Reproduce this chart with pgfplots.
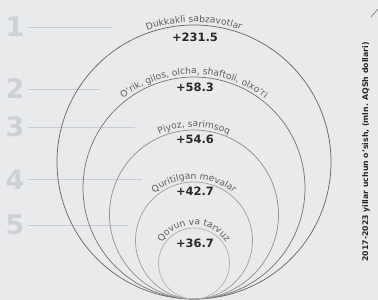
\documentclass[border=0pt]{standalone}
\usepackage{pgfplots}
\pgfplotsset{compat=1.18}
\usepackage{fontspec}
\setmainfont{DejaVu Sans}
\usetikzlibrary{decorations.text,calc}
\definecolor{bg}{RGB}{233,234,236}
\definecolor{dig}{RGB}{205,208,212}
\definecolor{lead}{RGB}{200,203,207}
\definecolor{lab}{RGB}{95,95,95}
\definecolor{val}{RGB}{40,40,40}
\definecolor{c1}{RGB}{105,105,105}
\definecolor{c2}{RGB}{120,120,120}
\definecolor{c3}{RGB}{145,145,145}
\definecolor{c4}{RGB}{160,160,160}
\definecolor{c5}{RGB}{180,180,180}
\newcommand\labfont{\fontsize{9.2}{10}\selectfont}
\newcommand\valfont{\fontsize{11.5}{12}\selectfont\bfseries}
\newcommand\digfont{\fontsize{27}{28}\selectfont\bfseries}
\newcommand\rfont{\fontsize{7.8}{8}\selectfont\bfseries}
\begin{document}
\begin{tikzpicture}
\begin{axis}[width=378bp,height=300bp,scale only axis,
  xmin=0,xmax=378,ymin=0,ymax=300,y dir=reverse,
  axis lines=none,clip=false]
\fill[bg] (rel axis cs:0,0) rectangle (rel axis cs:1,1);
% leader lines
\addplot[lead, line width=0.8pt] coordinates {(28,27) (112,27)};
\addplot[lead, line width=0.8pt] coordinates {(28,89) (100,89)};
\addplot[lead, line width=0.8pt] coordinates {(28,127) (135,127)};
\addplot[lead, line width=0.8pt] coordinates {(28,179) (142,179)};
\addplot[lead, line width=0.8pt] coordinates {(28,225) (128,225)};
% circles (centre x, centre y; radius as mark size)
\addplot[only marks, mark=o, mark size=137bp, mark options={draw=c1, line width=0.75pt}] coordinates {(194,162)};
\addplot[only marks, mark=o, mark size=111bp, mark options={draw=c2, line width=0.75pt}] coordinates {(194,188)};
\addplot[only marks, mark=o, mark size=84.5bp, mark options={draw=c3, line width=0.75pt}] coordinates {(194,214.5)};
\addplot[only marks, mark=o, mark size=58.5bp, mark options={draw=c4, line width=0.75pt}] coordinates {(194,240.5)};
\addplot[only marks, mark=o, mark size=35.5bp, mark options={draw=c5, line width=0.75pt}] coordinates {(194,263.5)};
% corner stroke
\addplot[c3, line width=0.9pt] coordinates {(371,17) (378,9)};
% curved labels
\path[decorate, decoration={text along path, text align=center, text color=lab, text={|\labfont|Dukkakli sabzavotlar}}]
  ($(axis cs:194,162)+(150:140bp)$) arc[start angle=150,end angle=30,radius=140bp];
\path[decorate, decoration={text along path, text align=center, text color=lab, text={|\labfont|O'rik, gilos, olcha, shaftoli, olxo'ri}}]
  ($(axis cs:194,188)+(150:114bp)$) arc[start angle=150,end angle=30,radius=114bp];
\path[decorate, decoration={text along path, text align=center, text color=lab, text={|\labfont|Piyoz, sarimsoq}}]
  ($(axis cs:194,214.5)+(150:87.5bp)$) arc[start angle=150,end angle=30,radius=87.5bp];
\path[decorate, decoration={text along path, text align=center, text color=lab, text={|\labfont|Quritilgan mevalar}}]
  ($(axis cs:194,240.5)+(160:61.5bp)$) arc[start angle=160,end angle=20,radius=61.5bp];
\path[decorate, decoration={text along path, text align=center, text color=lab, text={|\labfont|Qovun va tarvuz}}]
  ($(axis cs:194,263.5)+(170:38.5bp)$) arc[start angle=170,end angle=10,radius=38.5bp];
% values
\node[font=\valfont, text=val] at (axis cs:195,37) {+231.5};
\node[font=\valfont, text=val] at (axis cs:195,87) {+58.3};
\node[font=\valfont, text=val] at (axis cs:195,139) {+54.6};
\node[font=\valfont, text=val] at (axis cs:195,191) {+42.7};
\node[font=\valfont, text=val] at (axis cs:195,243) {+36.7};
% rank digits
\node[font=\digfont, text=dig] at (axis cs:15,27) {1};
\node[font=\digfont, text=dig] at (axis cs:15,89) {2};
\node[font=\digfont, text=dig] at (axis cs:15,127) {3};
\node[font=\digfont, text=dig] at (axis cs:15,180) {4};
\node[font=\digfont, text=dig] at (axis cs:15,225) {5};
% right title
\node[rotate=90, font=\rfont, text=val] at (axis cs:366,152) {2017-2023 yillar uchun o'sish, (mln. AQSh dollari)};
\end{axis}
\pgfresetboundingbox
\useasboundingbox (current axis.south west) rectangle (current axis.north east);
\end{tikzpicture}
\end{document}
